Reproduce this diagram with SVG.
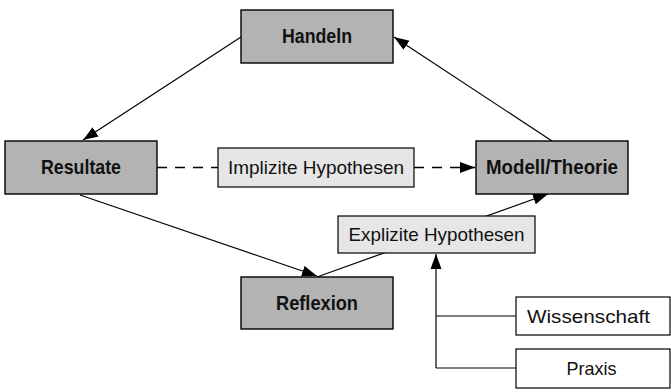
<svg xmlns="http://www.w3.org/2000/svg" width="671" height="392" viewBox="0 0 671 392">
<defs>
<style>
.main rect{fill:#b3b3b3;stroke:#000;stroke-width:1.4}
.hyp rect{fill:#e6e6e6;stroke:#000;stroke-width:1.2}
.src rect{fill:#fff;stroke:#000;stroke-width:1.2}
.main text{font-family:"Liberation Sans",Arial,sans-serif;font-weight:bold;font-size:21px;fill:#111;text-anchor:middle}
.hyp text,.src text{font-family:"Liberation Sans",Arial,sans-serif;font-size:18.5px;fill:#111;text-anchor:middle}
.conn line,.conn polyline{stroke:#000;stroke-width:1.2;fill:none}
.conn line.dash{stroke-dasharray:10 8;stroke-width:1.4}
</style>
<marker id="arr" markerUnits="userSpaceOnUse" markerWidth="16" markerHeight="12" refX="15" refY="6" orient="auto">
<path d="M0,0.5 L15,6 L0,11.5 Z" fill="#000"/>
</marker>
</defs>
<rect width="671" height="392" fill="#fff"/>
<g class="conn">
<line x1="241" y1="37" x2="83" y2="140" marker-end="url(#arr)"/>
<line x1="552" y1="141" x2="394" y2="37" marker-end="url(#arr)"/>
<line x1="80" y1="195" x2="317" y2="276" marker-end="url(#arr)"/>
<line x1="317" y1="277" x2="548" y2="194" marker-end="url(#arr)"/>
<line class="dash" x1="157" y1="167.5" x2="218" y2="167.5"/>
<line class="dash" x1="414" y1="167.5" x2="475" y2="167.5" marker-end="url(#arr)"/>
<line x1="436" y1="368" x2="436" y2="254" marker-end="url(#arr)"/>
<line x1="436" y1="316" x2="516" y2="316"/>
<line x1="436" y1="368" x2="516" y2="368"/>
</g>
<g id="handeln" class="main"><rect x="241" y="10" width="152" height="53"/><text x="317" y="43" textLength="70" lengthAdjust="spacingAndGlyphs">Handeln</text></g>
<g id="resultate" class="main"><rect x="5" y="141" width="152" height="53"/><text x="81" y="174" textLength="80" lengthAdjust="spacingAndGlyphs">Resultate</text></g>
<g id="modell" class="main"><rect x="476" y="141" width="152" height="53"/><text x="552" y="174" textLength="132" lengthAdjust="spacingAndGlyphs">Modell/Theorie</text></g>
<g id="reflexion" class="main"><rect x="241" y="277" width="152" height="52"/><text x="317" y="310" textLength="82" lengthAdjust="spacingAndGlyphs">Reflexion</text></g>
<g id="implizit" class="hyp"><rect x="218" y="148" width="196" height="39"/><text x="316" y="174" textLength="176" lengthAdjust="spacingAndGlyphs">Implizite Hypothesen</text></g>
<g id="explizit" class="hyp"><rect x="338" y="216" width="197" height="37"/><text x="436.5" y="241" textLength="176" lengthAdjust="spacingAndGlyphs">Explizite Hypothesen</text></g>
<g id="wissenschaft" class="src"><rect x="516" y="297" width="154" height="38"/><text x="588.5" y="323" textLength="123" lengthAdjust="spacingAndGlyphs">Wissenschaft</text></g>
<g id="praxis" class="src"><rect x="516" y="349" width="154" height="39"/><text x="591.5" y="375" textLength="50" lengthAdjust="spacingAndGlyphs">Praxis</text></g>
</svg>
